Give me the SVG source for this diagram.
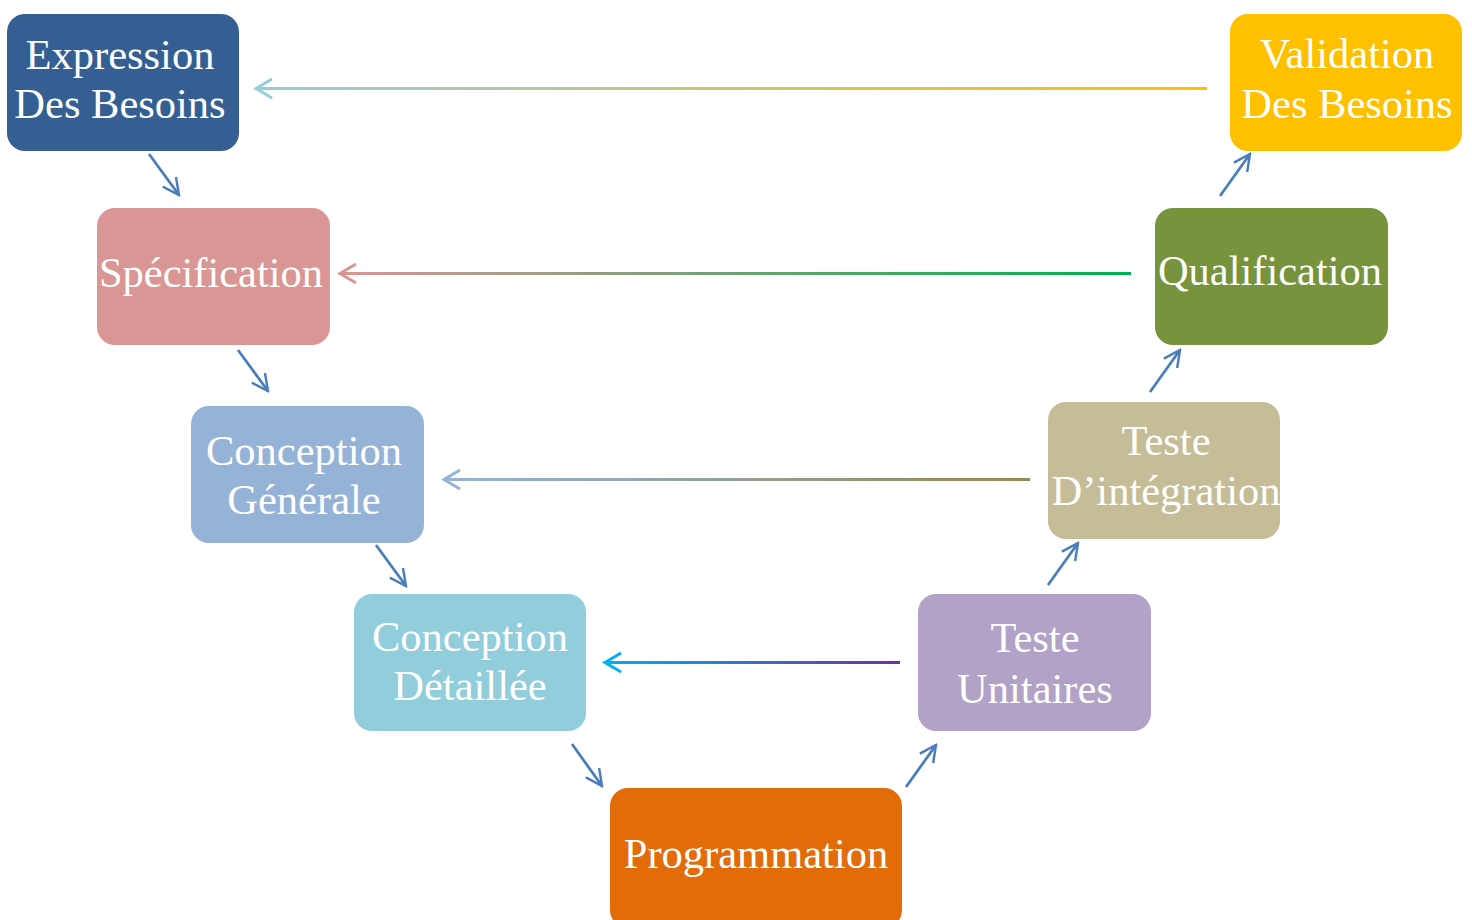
<svg xmlns="http://www.w3.org/2000/svg" width="1472" height="920" viewBox="0 0 1472 920">
<defs>
<style>
.box text{font-family:"Liberation Serif","Times New Roman",serif;font-size:42.5px;fill:#ffffff;text-anchor:middle}
.dg{stroke:#4A7EBB;stroke-width:2.8;fill:none;marker-end:url(#mb)}
.h{stroke-width:3;fill:none}
</style>
<linearGradient id="g1" gradientUnits="userSpaceOnUse" x1="255" y1="0" x2="1207" y2="0"><stop offset="0" stop-color="#92CDDC"/><stop offset="1" stop-color="#FFC000"/></linearGradient>
<linearGradient id="g2" gradientUnits="userSpaceOnUse" x1="340" y1="0" x2="1131" y2="0"><stop offset="0" stop-color="#D99694"/><stop offset="1" stop-color="#00B050"/></linearGradient>
<linearGradient id="g3" gradientUnits="userSpaceOnUse" x1="444" y1="0" x2="1030" y2="0"><stop offset="0" stop-color="#95B3D7"/><stop offset="1" stop-color="#948A54"/></linearGradient>
<linearGradient id="g4" gradientUnits="userSpaceOnUse" x1="605" y1="0" x2="900" y2="0"><stop offset="0" stop-color="#00B0F0"/><stop offset="1" stop-color="#7030A0"/></linearGradient>
<marker id="mb" viewBox="0 0 12 12" refX="11" refY="6" markerWidth="7" markerHeight="7" orient="auto" markerUnits="strokeWidth"><path d="M1,1 L11,6 L1,11" fill="none" stroke="#4A7EBB" stroke-width="1.5"/></marker>
</defs>
<g id="nodes">
<g id="n-expression" class="box"><rect x="7" y="14" width="232" height="137" rx="18" fill="#355F93"/><text x="120" y="69">Expression</text><text x="120" y="118">Des Besoins</text></g>
<g id="n-validation" class="box"><rect x="1230" y="14" width="232" height="137" rx="18" fill="#FFC000"/><text x="1347" y="68">Validation</text><text x="1347" y="118">Des Besoins</text></g>
<g id="n-specification" class="box"><rect x="97" y="208" width="233" height="137" rx="18" fill="#D99694"/><text x="211" y="287">Spécification</text></g>
<g id="n-qualification" class="box"><rect x="1155" y="208" width="233" height="137" rx="18" fill="#77933C"/><text x="1270" y="285">Qualification</text></g>
<g id="n-conception-generale" class="box"><rect x="191" y="406" width="233" height="137" rx="18" fill="#95B3D7"/><text x="304" y="465">Conception</text><text x="304" y="514">Générale</text></g>
<g id="n-teste-integration" class="box"><rect x="1048" y="402" width="232" height="137" rx="18" fill="#C4BD97"/><text x="1166" y="455">Teste</text><text x="1166" y="505">D’intégration</text></g>
<g id="n-conception-detaillee" class="box"><rect x="354" y="594" width="232" height="137" rx="18" fill="#92CDDC"/><text x="470" y="651">Conception</text><text x="470" y="700">Détaillée</text></g>
<g id="n-teste-unitaires" class="box"><rect x="918" y="594" width="233" height="137" rx="18" fill="#B2A2C7"/><text x="1035" y="652">Teste</text><text x="1035" y="703">Unitaires</text></g>
<g id="n-programmation" class="box"><rect x="610" y="788" width="292" height="140" rx="18" fill="#E36C0A"/><text x="756" y="868">Programmation</text></g>
</g>
<g id="connectors">
<line class="h" x1="1207" y1="88.5" x2="256" y2="88.5" stroke="url(#g1)"/>
<path d="M272,79 L256,88.5 L272,98" fill="none" stroke="#92CDDC" stroke-width="3"/>
<line class="h" x1="1131" y1="273.5" x2="340" y2="273.5" stroke="url(#g2)"/>
<path d="M356,264 L340,273.5 L356,283" fill="none" stroke="#D99694" stroke-width="3"/>
<line class="h" x1="1030" y1="479.5" x2="444" y2="479.5" stroke="url(#g3)"/>
<path d="M460,470 L444,479.5 L460,489" fill="none" stroke="#95B3D7" stroke-width="3"/>
<line class="h" x1="900" y1="662.5" x2="605" y2="662.5" stroke="url(#g4)"/>
<path d="M621,653 L605,662.5 L621,672" fill="none" stroke="#00B0F0" stroke-width="3"/>
<line class="dg" x1="149" y1="154" x2="179" y2="195"/>
<line class="dg" x1="238" y1="350" x2="268" y2="391"/>
<line class="dg" x1="376" y1="545" x2="406" y2="586"/>
<line class="dg" x1="572" y1="744" x2="602" y2="786"/>
<line class="dg" x1="906" y1="787" x2="936" y2="745"/>
<line class="dg" x1="1048" y1="585" x2="1078" y2="543"/>
<line class="dg" x1="1150" y1="392" x2="1180" y2="350"/>
<line class="dg" x1="1220" y1="196" x2="1250" y2="154"/>
</g>
</svg>
